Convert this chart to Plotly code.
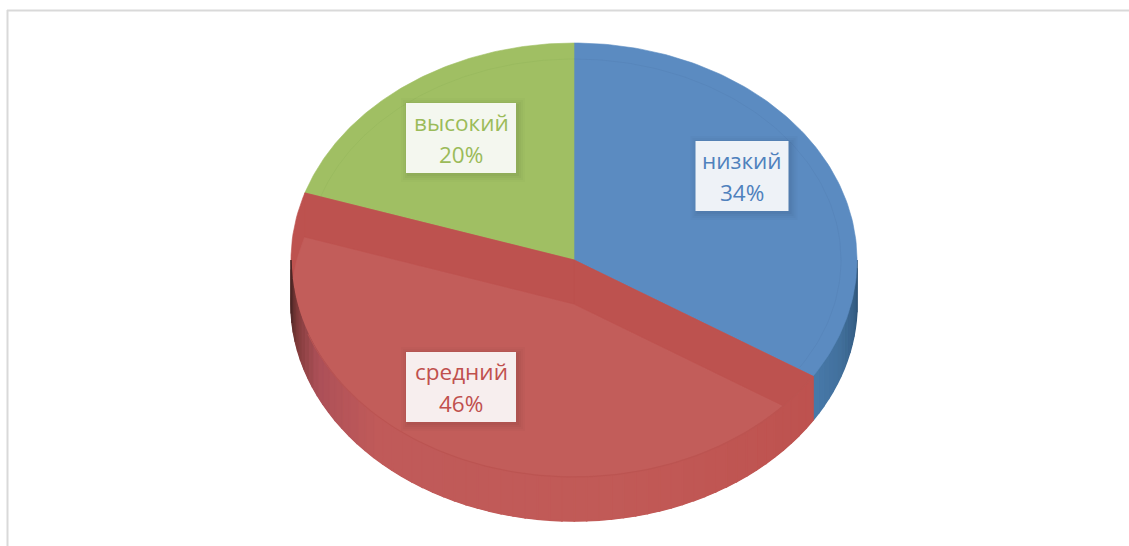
import numpy as np
import plotly.graph_objects as go

categories = ["низкий", "средний", "высокий"]
values = [34, 46, 20]
top_colors = ["#5B8BC1", "#BD524F", "#A0BF63"]
text_colors = ["#4F81BD", "#C0504D", "#9BBB59"]
label_centers = [(742, 176), (461, 387), (461, 138)]

W, H = 1129, 546
CX, CY, RX, RY, DEPTH = 574, 260, 283, 217, 44
RED_FACE = "#C25D5A"
RED_LINE = "#BB5451"


def pt(a, dy=0.0):
    a = np.asarray(a, float)
    return CX + RX * np.sin(np.radians(a)), CY - RY * np.cos(np.radians(a)) + dy


def arc(a0, a1, dy=0.0, n=120):
    return pt(np.linspace(a0, a1, n), dy)


def sector(a0, a1, dy=0.0):
    x, y = arc(a0, a1, dy)
    return np.r_[CX, x, CX], np.r_[CY + dy, y, CY + dy]


def poly(fig, x, y, color, lw=0.6):
    fig.add_trace(go.Scatter(x=x, y=y, mode="lines", fill="toself", fillcolor=color,
                             line=dict(width=lw, color=color), hoverinfo="skip", showlegend=False))


def mix(stops, t):
    ts = [s[0] for s in stops]
    rgb = [np.interp(t, ts, [s[1][i] for s in stops]) for i in range(3)]
    return "rgb(%d,%d,%d)" % tuple(rgb)


edges = np.r_[0, np.cumsum(values)] / sum(values) * 360.0
fig = go.Figure()

# side of the blue slice
blue_stops = [(90, (38, 72, 105)), (97, (52, 92, 130)), (110, (66, 112, 156)), (edges[1], (72, 122, 170))]
segs = np.linspace(90, edges[1], 16)
for a0, a1 in zip(segs[:-1], segs[1:]):
    x0, y0 = arc(a0, a1, 0, 4)
    x1, y1 = arc(a1, a0, DEPTH, 4)
    poly(fig, np.r_[x0, x1, x0[0]], np.r_[y0, y1, y0[0]], mix(blue_stops, (a0 + a1) / 2), 1.6)

# top faces of blue and green, inner wall of the red slice
for i in (0, 2):
    x, y = sector(edges[i], edges[i + 1])
    poly(fig, x, y, top_colors[i])
x, y = sector(edges[1], edges[2])
poly(fig, x, y, top_colors[1])
x, y = sector(edges[1], edges[2], DEPTH)
poly(fig, x, y, RED_FACE)

# wall between the red slice top and its lowered face
xe, ye = pt(edges[1])
poly(fig, [CX, xe, xe, CX, CX], [CY, ye, ye + DEPTH, CY + DEPTH, CY], top_colors[1])
xe, ye = pt(edges[2])
poly(fig, [CX, xe, xe, CX, CX], [CY, ye, ye + DEPTH, CY + DEPTH, CY], top_colors[1])

# side of the red slice
red_stops = [(edges[1], (190, 82, 79)), (170, (194, 90, 87)), (225, (192, 90, 90)),
             (245, (172, 80, 88)), (258, (130, 60, 60)), (270, (70, 36, 34))]
segs = np.linspace(edges[1], 270, 60)
for a0, a1 in zip(segs[:-1], segs[1:]):
    x0, y0 = arc(a0, a1, 0, 4)
    x1, y1 = arc(a1, a0, DEPTH, 4)
    poly(fig, np.r_[x0, x1, x0[0]], np.r_[y0, y1, y0[0]], mix(red_stops, (a0 + a1) / 2), 1.6)

# faint rim of the top ellipse across the red slice
x, y = arc(edges[1], 250)
fig.add_trace(go.Scatter(x=x, y=y, mode="lines", line=dict(width=1, color=RED_LINE),
                         hoverinfo="skip", showlegend=False))

# faint bevel on blue and green
for i, c in ((0, "rgba(70,110,160,0.18)"), (2, "rgba(130,165,80,0.18)")):
    a = np.linspace(edges[i], edges[i + 1], 100)
    fig.add_trace(go.Scatter(x=CX + (RX - 16) * np.sin(np.radians(a)),
                             y=CY - (RY - 16) * np.cos(np.radians(a)),
                             mode="lines", line=dict(width=1, color=c),
                             hoverinfo="skip", showlegend=False))

shapes = [
    dict(type="line", x0=7.5, x1=7.5, y0=10, y1=H, line=dict(color="#D9D9D9", width=2)),
    dict(type="line", x0=7, x1=W, y0=10.5, y1=10.5, line=dict(color="#D9D9D9", width=2)),
]
annotations = []
for cat, val, col, (lx, ly) in zip(categories, values, text_colors, label_centers):
    hw = 46.5 if cat == "низкий" else 55
    hh = 35
    for grow, alpha in ((7, 0.015), (5, 0.02), (3, 0.025), (1, 0.03)):
        shapes.append(dict(type="rect", x0=lx - hw - grow + 2, x1=lx + hw + grow + 2,
                           y0=ly - hh - grow + 2, y1=ly + hh + grow + 2,
                           fillcolor=f"rgba(0,0,0,{alpha})", line=dict(width=0), layer="above"))
    shapes.append(dict(type="rect", x0=lx - hw, x1=lx + hw, y0=ly - hh, y1=ly + hh,
                       fillcolor="rgba(255,255,255,0.9)", line=dict(width=0), layer="above"))
    for txt, dy in ((cat, -15.5), (f"{val}%", 16)):
        annotations.append(dict(x=lx, y=ly + dy, text=txt, showarrow=False, xref="x", yref="y",
                                xanchor="center", yanchor="middle",
                                font=dict(family="Open Sans", size=22.5, color=col)))

fig.update_layout(
    width=W, height=H, margin=dict(l=0, r=0, t=0, b=0),
    paper_bgcolor="white", plot_bgcolor="white", showlegend=False,
    xaxis=dict(range=[0, W], visible=False, fixedrange=True),
    yaxis=dict(range=[H, 0], visible=False, fixedrange=True),
    shapes=shapes, annotations=annotations,
)
fig.write_html("out.html", config={"displayModeBar": False},
               post_script="document.body.style.margin='0';")
